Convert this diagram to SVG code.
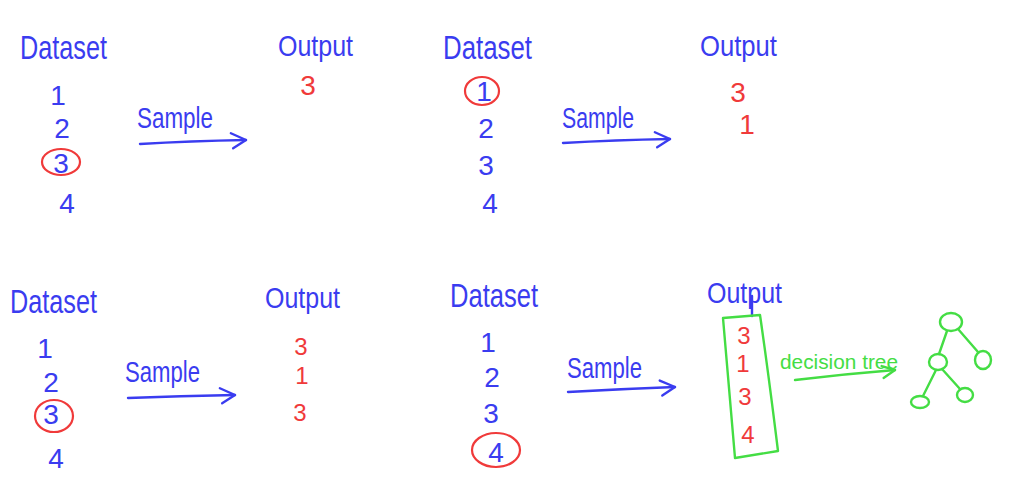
<svg xmlns="http://www.w3.org/2000/svg" width="1036" height="493" viewBox="0 0 1036 493">
<style>
text{font-family:"Liberation Sans","DejaVu Sans",sans-serif;}
.lbl{fill:#3a3cf0;font-size:30px;}
.ds{fill:#3a3cf0;font-size:34px;}
.smp{fill:#3a3cf0;font-size:30px;}
.dg{fill:#3a3cf0;font-size:28px;text-anchor:middle;}
.rd{fill:#f03a3a;font-size:28px;text-anchor:middle;}
.rs{fill:#f03a3a;font-size:24px;text-anchor:middle;}
.gt{fill:#44dd44;font-size:21px;}
.circ{fill:none;stroke:#f03a3a;stroke-width:2.2;}
.bl{fill:none;stroke:#3a3cf0;stroke-width:2.4;stroke-linecap:round;}
.gl{fill:none;stroke:#44dd44;stroke-width:2.4;stroke-linecap:round;stroke-linejoin:round;}
</style>
<defs>
<marker id="chevB" viewBox="-18 -12 22 24" refX="0" refY="0" markerWidth="22" markerHeight="24" orient="auto" markerUnits="userSpaceOnUse">
<path d="M-15,-7 L0,0 L-13,8" fill="none" stroke="#3a3cf0" stroke-width="2.4" stroke-linecap="round" stroke-linejoin="round"/>
</marker>
<marker id="chevG" viewBox="-18 -12 22 24" refX="0" refY="0" markerWidth="22" markerHeight="24" orient="auto" markerUnits="userSpaceOnUse">
<path d="M-13,-5 L0,0 L-12,7" fill="none" stroke="#44dd44" stroke-width="2.4" stroke-linecap="round" stroke-linejoin="round"/>
</marker>
</defs>
<rect width="1036" height="493" fill="#ffffff"/>

<!-- Panel 1 -->
<g id="p1-dataset">
<text class="ds" x="20" y="59" textLength="87" lengthAdjust="spacingAndGlyphs">Dataset</text>
<text class="dg" x="58" y="105">1</text>
<text class="dg" x="62" y="138">2</text>
<text class="dg" x="61" y="173">3</text>
<text class="dg" x="67" y="213">4</text>
<ellipse class="circ" cx="61" cy="162" rx="19" ry="13"/>
</g>
<g id="p1-sample"><text class="smp" x="137" y="128" textLength="76" lengthAdjust="spacingAndGlyphs">Sample</text></g>
<g id="p1-output">
<text class="lbl" x="278" y="56" textLength="75" lengthAdjust="spacingAndGlyphs">Output</text>
<text class="rd" x="308" y="95">3</text>
</g>

<!-- Panel 2 -->
<g id="p2-dataset">
<text class="ds" x="443" y="59" textLength="89" lengthAdjust="spacingAndGlyphs">Dataset</text>
<text class="dg" x="484" y="101">1</text>
<text class="dg" x="486" y="138">2</text>
<text class="dg" x="486" y="175">3</text>
<text class="dg" x="490" y="213">4</text>
<ellipse class="circ" cx="482" cy="91" rx="17" ry="14"/>
</g>
<g id="p2-sample"><text class="smp" x="562" y="128" textLength="72" lengthAdjust="spacingAndGlyphs">Sample</text></g>
<g id="p2-output">
<text class="lbl" x="700" y="56" textLength="77" lengthAdjust="spacingAndGlyphs">Output</text>
<text class="rd" x="738" y="102">3</text>
<text class="rd" x="747" y="134">1</text>
</g>

<!-- Panel 3 -->
<g id="p3-dataset">
<text class="ds" x="10" y="313" textLength="87" lengthAdjust="spacingAndGlyphs">Dataset</text>
<text class="dg" x="45" y="358">1</text>
<text class="dg" x="51" y="392">2</text>
<text class="dg" x="51" y="424">3</text>
<text class="dg" x="56" y="468">4</text>
<ellipse class="circ" cx="54" cy="416" rx="19" ry="16"/>
</g>
<g id="p3-sample"><text class="smp" x="125" y="382" textLength="75" lengthAdjust="spacingAndGlyphs">Sample</text></g>
<g id="p3-output">
<text class="lbl" x="265" y="308" textLength="75" lengthAdjust="spacingAndGlyphs">Output</text>
<text class="rs" x="301" y="355">3</text>
<text class="rs" x="302" y="384">1</text>
<text class="rs" x="300" y="421">3</text>
</g>

<!-- Panel 4 -->
<g id="p4-dataset">
<text class="ds" x="450" y="307" textLength="88" lengthAdjust="spacingAndGlyphs">Dataset</text>
<text class="dg" x="488" y="352">1</text>
<text class="dg" x="492" y="387">2</text>
<text class="dg" x="491" y="423">3</text>
<text class="dg" x="496" y="462">4</text>
<ellipse class="circ" cx="496" cy="450" rx="24" ry="17"/>
</g>
<g id="p4-sample"><text class="smp" x="567" y="378" textLength="75" lengthAdjust="spacingAndGlyphs">Sample</text></g>
<g id="p4-output">
<text class="lbl" x="707" y="303" textLength="75" lengthAdjust="spacingAndGlyphs">Output</text>
<path class="bl" d="M752,296 L752,316"/>
<path class="gl" d="M723,318 L760,315 Q768,370 778,451 L735,458 Q729,390 723,318 Z"/>
<text class="rs" x="744" y="344">3</text>
<text class="rs" x="743" y="372">1</text>
<text class="rs" x="745" y="405">3</text>
<text class="rs" x="748" y="443">4</text>
</g>
<g id="p4-label"><text class="gt" x="780" y="369" textLength="118" lengthAdjust="spacingAndGlyphs">decision tree</text></g>
<g id="tree-root"><ellipse class="gl" cx="951" cy="322" rx="11" ry="9"/></g>
<g id="tree-left"><ellipse class="gl" cx="938" cy="362" rx="9" ry="8"/></g>
<g id="tree-right"><ellipse class="gl" cx="983" cy="360" rx="8" ry="9"/></g>
<g id="tree-left-left"><ellipse class="gl" cx="920" cy="402" rx="9" ry="6"/></g>
<g id="tree-left-right"><ellipse class="gl" cx="965" cy="395" rx="8" ry="7"/></g>

<g id="connectors">
<path class="bl" d="M140,144 Q190,141 246,140" marker-end="url(#chevB)"/>
<path class="bl" d="M563,143 Q615,140 670,139" marker-end="url(#chevB)"/>
<path class="bl" d="M128,398 Q180,396 235,395" marker-end="url(#chevB)"/>
<path class="bl" d="M568,392 Q620,389 675,387" marker-end="url(#chevB)"/>
<path class="gl" d="M795,380 Q845,374 895,370" marker-end="url(#chevG)"/>
<path class="gl" d="M947,331 L939,354"/>
<path class="gl" d="M958,329 L978,352"/>
<path class="gl" d="M936,370 L923,396"/>
<path class="gl" d="M942,369 L960,389"/>
</g>
</svg>
